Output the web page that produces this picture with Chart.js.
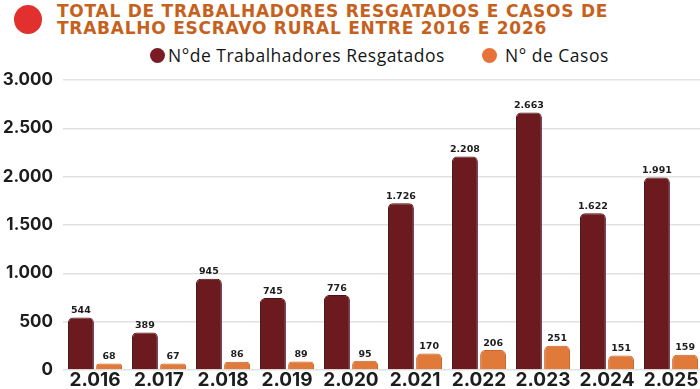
<!DOCTYPE html>
<html lang="pt-BR">
<head>
<meta charset="utf-8">
<script src="https://cdn.jsdelivr.net/npm/chart.js@4.4.1/dist/chart.umd.min.js"></script>
<style>
  html, body { margin: 0; padding: 0; background: #fff; }
  body { width: 700px; height: 389px; overflow: hidden; position: relative; }
  .dot { position: absolute; border-radius: 50%; }
  #bigDot { left: 14px; top: 5px; width: 28px; height: 29px; background: #e2302f; }
  #title {
    position: absolute; left: 57px; top: 3px; margin: 0;
    font: 700 17px/17px "DejaVu Sans", sans-serif; color: #c6611d;
    letter-spacing: 0.75px; white-space: nowrap;
  }
  #legend { position: absolute; left: 0; top: 44px; height: 22px; }
  .leg-text {
    position: absolute; top: 0; white-space: nowrap;
    font: 500 17.5px/22px "Open Sans", sans-serif; color: #151515;
    letter-spacing: 0.5px;
  }
  #wrap { position: absolute; left: 0; top: 0; width: 703px; height: 391px; }
</style>
</head>
<body>
<div id="bigDot" class="dot"></div>
<h1 id="title">TOTAL DE TRABALHADORES RESGATADOS E CASOS DE<br>TRABALHO ESCRAVO RURAL ENTRE 2016 E 2026</h1>
<div id="legend"></div>
<div id="wrap"><canvas id="chart"></canvas></div>
<script>
// dados do gráfico
const anos = ['2.016', '2.017', '2.018', '2.019', '2.020', '2.021', '2.022', '2.023', '2.024', '2.025'];
const trabalhadores = [544, 389, 945, 745, 776, 1726, 2208, 2663, 1622, 1991];
const casos = [68, 67, 86, 89, 95, 170, 206, 251, 151, 159];
const nomesSeries = ['N°de Trabalhadores Resgatados', 'N° de Casos'];
const coresSeries = ['#6d1a1f', '#e07a3a'];
const coresLegenda = ['#7a1c26', '#e8733a'];

// formato brasileiro: 1.726
function formatar(v) {
    return String(v).replace(/\B(?=(\d{3})+(?!\d))/g, '.');
}

// legenda em html
const legendPos = [{ dot: 150, text: 168 }, { dot: 482, text: 505 }];
document.getElementById('legend').innerHTML = nomesSeries.map((nome, i) => `
    <div class="dot" style="left:${legendPos[i].dot}px;top:4px;width:15px;height:15px;background:${coresLegenda[i]}"></div>
    <div class="leg-text" style="left:${legendPos[i].text}px">${nome}</div>
`).join('');

// rótulos em cima das barras
const rotulosBarras = {
    id: 'rotulosBarras',
    afterDatasetsDraw(chart) {
        const ctx = chart.ctx;
        ctx.save();
        ctx.font = '700 9.5px "DejaVu Sans", sans-serif';
        ctx.fillStyle = '#1d1d1d';
        ctx.textAlign = 'center';
        ctx.textBaseline = 'bottom';
        chart.data.datasets.forEach((ds, i) => {
            chart.getDatasetMeta(i).data.forEach((bar, j) => {
                ctx.fillText(formatar(ds.data[j]), bar.x, bar.y - 2);
            });
        });
        ctx.restore();
    }
};

new Chart(document.getElementById('chart'), {
    type: 'bar',
    data: {
        labels: anos,
        datasets: [
            {
                label: nomesSeries[0],
                data: trabalhadores,
                backgroundColor: coresSeries[0],
                borderColor: '#4e1014',
                borderWidth: 1,
                borderRadius: 5,
                borderSkipped: 'bottom'
            },
            {
                label: nomesSeries[1],
                data: casos,
                backgroundColor: coresSeries[1],
                borderColor: '#c9652a',
                borderWidth: 1,
                borderRadius: 5,
                borderSkipped: 'bottom'
            }
        ]
    },
    options: {
        responsive: true,
        maintainAspectRatio: false,
        animation: false,
        categoryPercentage: 0.88,
        barPercentage: 0.92,
        layout: { padding: { top: 80, left: 3, right: 0, bottom: 0 } },
        plugins: {
            legend: { display: false },
            tooltip: { enabled: false }
        },
        scales: {
            x: {
                grid: { display: false, drawTicks: false },
                border: { display: false },
                ticks: {
                    color: '#1d1d1d',
                    padding: 1,
                    font: { family: 'Inter', weight: '700', size: 19, lineHeight: 1 }
                }
            },
            y: {
                min: 0,
                max: 3000,
                border: { display: false },
                grid: { color: '#e2e2e2', lineWidth: 1.5, drawTicks: false },
                afterFit(scale) { scale.width = 60; },
                ticks: {
                    stepSize: 500,
                    padding: 10,
                    color: '#1d1d1d',
                    font: { family: 'Inter', weight: '700', size: 17 },
                    callback: v => formatar(v)
                }
            }
        }
    },
    plugins: [rotulosBarras]
});
</script>
</body>
</html>
